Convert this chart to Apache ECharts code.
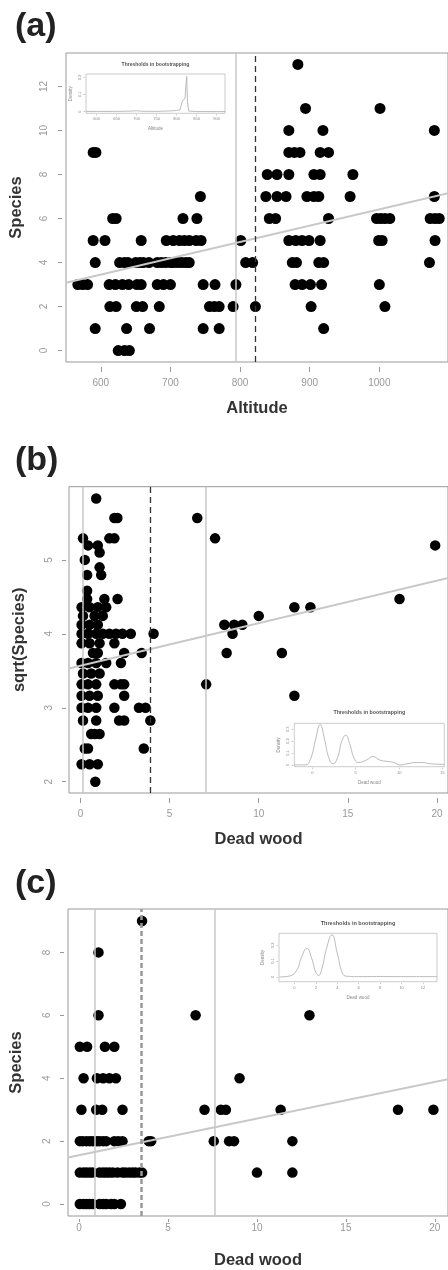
<!DOCTYPE html>
<html><head><meta charset="utf-8">
<script src="https://cdn.jsdelivr.net/npm/echarts@6/dist/echarts.min.js"></script>
<style>html,body{margin:0;padding:0;background:#fff}#c{width:448px;height:1270px}</style>
</head><body><div id="c"></div>
<script>
// ---------- Panel (a): Altitude vs Species ----------
const pointsA = [
 [883,13],
 [894,11],[1001,11],
 [870,10],[919,10],[1079,10],
 [589,9],[593,9],[870,9],[878,9],[886,9],[915,9],[927,9],
 [839,8],[853,8],[870,8],[906,8],[915,8],[962,8],
 [743,7],[837,7],[853,7],[866,7],[896,7],[906,7],[913,7],[958,7],[1079,7],
 [617,6],[622,6],[718,6],[738,6],[842,6],[851,6],[927,6],[996,6],[1002,6],[1008,6],[1015,6],[1073,6],[1080,6],[1086,6],
 [589,5],[606,5],[658,5],[694,5],[704,5],[713,5],[720,5],[727,5],[737,5],[744,5],[801,5],[870,5],[880,5],[889,5],[899,5],[915,5],[999,5],[1004,5],[1080,5],
 [592,4],[627,4],[634,4],[639,4],[650,4],[656,4],[661,4],[669,4],[681,4],[687,4],[693,4],[700,4],[704,4],[710,4],[716,4],[722,4],[727,4],[808,4],[818,4],[875,4],[881,4],[913,4],[920,4],[1072,4],
 [567,3],[574,3],[581,3],[612,3],[621,3],[631,3],[640,3],[652,3],[658,3],[681,3],[690,3],[700,3],[747,3],[764,3],[794,3],[879,3],[889,3],[901,3],[917,3],[1000,3],
 [613,2],[622,2],[651,2],[660,2],[684,2],[756,2],[763,2],[770,2],[790,2],[822,2],[902,2],[1008,2],
 [592,1],[637,1],[670,1],[747,1],[770,1],[920,1],
 [625,0],[634,0],[641,0]
];
const fitA = [[550,3.08],[1100,7.16]];
const solidA = [794];
const dashedA = [822];
const xTicksA = [600,700,800,900,1000];
const yTicksA = [0,2,4,6,8,10,12];
const densXA = [573,600,650,690,700,712,750,785,800,808,814,818,821,823,825,827,830,850,900,921];
const densYA = [0.002,0.002,0.002,0.004,0.006,0.003,0.002,0.005,0.007,0.01,0.06,0.07,0.08,0.15,0.205,0.06,0.004,0.001,0.001,0.001];
const insetXTicksA = [600,650,700,750,800,850,900];
const insetYTicksA = [0,0.1,0.2];

// ---------- Panel (b): Dead wood vs sqrt(Species) ----------
const pointsB = [ // [dead wood, species count]
 [0.88,34],
 [1.9,31],[2.07,31],[6.55,31],
 [0.14,28],[1.62,28],[1.9,28],[7.55,28],
 [0.42,27],[0.97,27],[19.9,27],
 [1.07,26],[0.24,25],[1.07,24],[0.37,23],[1.16,23],[0.37,21],
 [0.37,20],[1.34,20],[2.08,20],[17.9,20],
 [0.06,19],[0.51,19],[0.97,19],[1.44,19],[12.0,19],[12.9,19],
 [0.14,18],[0.79,18],[1.25,18],[10.0,18],
 [0.06,17],[0.51,17],[0.97,17],[8.07,17],[8.62,17],[9.08,17],
 [0.06,16],[0.42,16],[0.88,16],[1.25,16],[1.62,16],[1.99,16],[2.35,16],[2.82,16],[4.1,16],[8.53,16],
 [0.06,15],[0.51,15],[1.07,15],[1.9,15],
 [0.7,14],[0.97,14],[2.45,14],[3.43,14],[8.2,14],[11.3,14],
 [0.06,13],[0.42,13],[0.88,13],[1.44,13],[2.27,13],
 [0.14,12],[0.6,12],[1.07,12],
 [0.06,11],[0.42,11],[0.88,11],[1.9,11],[2.27,11],[2.45,11],[7.05,11],
 [0.06,10],[0.51,10],[0.97,10],[2.45,10],[12.0,10],
 [0.06,9],[0.42,9],[0.88,9],[1.9,9],[3.28,9],[3.65,9],
 [0.14,8],[0.88,8],[2.17,8],[2.45,8],[3.92,8],
 [0.6,7],[0.8,7],[1.07,7],
 [0.24,6],[0.42,6],[3.55,6],
 [0.06,5],[0.51,5],[0.97,5],
 [0.83,4]
];
const fitB = [[-0.65,3.53],[20.7,4.76]];
const solidB = [0.14,7.0];
const dashedB = [3.9];
const xTicksB = [0,5,10,15,20];
const yTicksB = [2,3,4,5];
const densXB = [-2.1,-0.8,-0.2,0.4,0.9,1.4,1.9,2.4,2.9,3.4,3.85,4.3,4.8,5.3,6.2,7.0,7.8,8.6,9.4,10.1,11.0,11.8,12.7,13.5,15.2];
const densYB = [0,0,0.05,0.22,0.34,0.22,0.06,0.01,0.06,0.2,0.25,0.18,0.06,0.02,0.04,0.07,0.04,0.03,0.02,0.0,0.01,0.02,0.02,0.01,0.005];
const insetXTicksB = [0,5,10,15];
const insetYTicksB = [0,0.1,0.2,0.3];

// ---------- Panel (c): Dead wood vs Species ----------
const pointsC = [
 [3.54,9],[1.09,8],
 [1.09,6],[6.55,6],[12.95,6],
 [0.04,5],[0.45,5],[1.45,5],[1.98,5],
 [0.25,4],[1.0,4],[1.35,4],[1.7,4],[2.07,4],[9.02,4],
 [0.13,3],[0.96,3],[1.3,3],[2.44,3],[7.05,3],[7.97,3],[8.25,3],[11.33,3],[17.93,3],[19.92,3],
 [0.04,2],[0.2,2],[0.41,2],[0.6,2],[0.77,2],[1.0,2],[1.15,2],[1.35,2],[1.52,2],[1.98,2],[2.2,2],[2.44,2],[3.91,2],[4.05,2],[7.57,2],[8.43,2],[8.71,2],[11.99,2],
 [0.04,1],[0.25,1],[0.41,1],[0.6,1],[0.77,1],[1.15,1],[1.35,1],[1.52,1],[1.7,1],[1.89,1],[2.16,1],[2.44,1],[2.6,1],[2.81,1],[3.0,1],[3.17,1],[3.4,1],[3.54,1],[10.0,1],[11.99,1],
 [0.04,0],[0.25,0],[0.41,0],[0.6,0],[0.77,0],[1.15,0],[1.35,0],[1.52,0],[1.8,0],[1.98,0],[2.35,0]
];
const fitC = [[-0.63,1.48],[20.75,3.97]];
const solidC = [0.9,7.6];
const dashedC = [3.5];
const xTicksC = [0,5,10,15,20];
const yTicksC = [0,2,4,6,8];
const densXC = [-1.4,-0.5,0.2,0.7,1.16,1.6,2.0,2.25,2.6,3.0,3.5,4.0,4.4,4.8,6,8,10,12,13.3];
const densYC = [0,0.005,0.04,0.13,0.18,0.12,0.03,0.01,0.06,0.18,0.265,0.15,0.04,0.005,0.002,0.003,0.002,0.002,0.002];
const insetXTicksC = [0,2,4,6,8,10,12];
const insetYTicksC = [0,0.1,0.2];

const insetTitle = 'Thresholds in bootstrapping';
// ---------------------------------------------------
const FONT = 'Liberation Sans, Arial, sans-serif';
const zip = (xs, ys) => xs.map((x, i) => [x, ys[i]]);
const plain = v => String(v);

function mainX(gi, min, max, ticks, name, offset, tickLen, margin) {
  return {type:'value', gridIndex:gi, min, max, offset,
    axisLine:{show:false, onZero:false}, splitLine:{show:false},
    axisTick:{show:true, length:tickLen, customValues:ticks, lineStyle:{color:'#999', width:1}},
    axisLabel:{customValues:ticks, color:'#999', fontSize:10, margin, fontFamily:FONT, formatter:plain},
    name, nameLocation:'middle', nameGap:33,
    nameTextStyle:{fontWeight:'bold', fontSize:16.5, color:'#333', fontFamily:FONT}};
}
function mainY(gi, min, max, ticks, name, offset, margin, gap) {
  return {type:'value', gridIndex:gi, min, max, offset,
    axisLine:{show:false, onZero:false}, splitLine:{show:false},
    axisTick:{show:true, length:4, customValues:ticks, lineStyle:{color:'#999', width:1}},
    axisLabel:{customValues:ticks, color:'#999', fontSize:10, margin, rotate:90, fontFamily:FONT, formatter:plain},
    name, nameLocation:'middle', nameGap:gap, nameRotate:90,
    nameTextStyle:{fontWeight:'bold', fontSize:16.5, color:'#333', fontFamily:FONT}};
}
function insetX(gi, min, max, ticks, name, gap) {
  return {type:'value', gridIndex:gi, min, max, offset:1,
    axisLine:{show:false, onZero:false}, splitLine:{show:false},
    axisTick:{show:true, length:1.5, customValues:ticks, lineStyle:{color:'#999', width:0.5}},
    axisLabel:{customValues:ticks, color:'#888', fontSize:4, margin:3, fontFamily:FONT, formatter:plain},
    name, nameLocation:'middle', nameGap:gap,
    nameTextStyle:{fontSize:4.5, color:'#888', fontFamily:FONT}};
}
function insetY(gi, min, max, ticks, gap) {
  return {type:'value', gridIndex:gi, min, max, offset:1,
    axisLine:{show:false, onZero:false}, splitLine:{show:false},
    axisTick:{show:true, length:1.5, customValues:ticks, lineStyle:{color:'#999', width:0.5}},
    axisLabel:{customValues:ticks, color:'#888', fontSize:4, margin:3, rotate:90, fontFamily:FONT, formatter:plain},
    name:'Density', nameLocation:'middle', nameGap:gap, nameRotate:90,
    nameTextStyle:{fontSize:4.5, color:'#888', fontFamily:FONT}};
}
function vlines(values, style) {
  return values.map(v => ({xAxis:v, lineStyle:style}));
}
const solidStyle = {color:'#c8c8c8', width:1.5, type:'solid'};
function panelSeries(idx, points, fit, solid, dashed, dashStyle, size) {
  return [
    {type:'scatter', xAxisIndex:idx, yAxisIndex:idx, data:points, symbol:'circle', symbolSize:size,
     itemStyle:{color:'#000', opacity:1}, silent:true, z:2},
    {type:'line', xAxisIndex:idx, yAxisIndex:idx, data:fit, showSymbol:false, clip:true,
     lineStyle:{color:'#c8c8c8', width:2}, silent:true, z:3,
     markLine:{silent:true, symbol:['none','none'], label:{show:false},
       data:vlines(solid, solidStyle).concat(vlines(dashed, dashStyle))}}
  ];
}
function densSeries(idx, xs, ys, smooth) {
  return {type:'line', xAxisIndex:idx, yAxisIndex:idx, data:zip(xs, ys), showSymbol:false, smooth,
    lineStyle:{color:'#aaa', width:0.8}, silent:true, clip:true};
}

const chart = echarts.init(document.getElementById('c'));
const pointsBsqrt = pointsB.map(p => [p[0], Math.sqrt(p[1])]);
const option = {
  animation:false,
  backgroundColor:'#fff',
  grid:[
    {left:66, top:53, right:-2, height:309, show:true, borderColor:'#999', borderWidth:1},
    {left:86, top:74, width:139, height:39.3, show:true, borderColor:'#aaa', borderWidth:0.6},
    {left:69, top:486.7, right:-6, height:306.3, show:true, borderColor:'#999', borderWidth:1},
    {left:294.3, top:723.3, width:150, height:43.4, show:true, borderColor:'#aaa', borderWidth:0.6},
    {left:68, top:909, right:-6, height:309.3, show:true, borderColor:'#999', borderWidth:1},
    {left:279, top:933.3, width:158, height:48.4, show:true, borderColor:'#aaa', borderWidth:0.6}
  ],
  xAxis:[
    mainX(0, 550, 1098.6, xTicksA, 'Altitude', 5, 5, 11),
    insetX(1, 573.3, 920.8, insetXTicksA, 'Altitude', 12),
    mainX(2, -0.646, 20.62, xTicksB, 'Dead wood', 5, 5, 11),
    insetX(3, -2.07, 15.2, insetXTicksB, 'Dead wood', 13),
    mainX(4, -0.625, 20.74, xTicksC, 'Dead wood', 3, 3, 4),
    insetX(5, -1.43, 13.3, insetXTicksC, 'Dead wood', 13)
  ],
  yAxis:[
    mainY(0, -0.52, 13.52, yTicksA, 'Species', 4, 13, 37),
    insetY(1, -0.009, 0.219, insetYTicksA, 12),
    mainY(2, 1.847, 5.99, yTicksB, 'sqrt(Species)', 3, 12, 38),
    insetY(3, -0.015, 0.35, insetYTicksB, 12),
    mainY(4, -0.38, 9.38, yTicksC, 'Species', 4, 12, 39),
    insetY(5, -0.03, 0.275, insetYTicksC, 13)
  ],
  series:[].concat(
    panelSeries(0, pointsA, fitA, solidA, dashedA, {color:'#333', width:1.3, type:[6,4]}, 11),
    [densSeries(1, densXA, densYA, false)],
    panelSeries(2, pointsBsqrt, fitB, solidB, dashedB, {color:'#333', width:1.3, type:[6,4]}, 10.5),
    [densSeries(3, densXB, densYB, true)],
    panelSeries(4, pointsC, fitC, solidC, dashedC, {color:'#999', width:2.5, type:[5,3]}, 10.5),
    [densSeries(5, densXC, densYC, true)]
  ),
  graphic:[
    {type:'text', left:15, top:10, style:{text:'(a)', fontSize:34, fontWeight:'bold', fill:'#222', fontFamily:FONT}},
    {type:'text', left:15, top:444, style:{text:'(b)', fontSize:34, fontWeight:'bold', fill:'#222', fontFamily:FONT}},
    {type:'text', left:15, top:867, style:{text:'(c)', fontSize:34, fontWeight:'bold', fill:'#222', fontFamily:FONT}},
    {type:'text', x:155.5, y:65, style:{text:insetTitle, fontSize:5, fontWeight:'bold', fill:'#555', align:'center', verticalAlign:'middle', fontFamily:FONT}},
    {type:'text', x:369.3, y:712.3, style:{text:insetTitle, fontSize:5.3, fontWeight:'bold', fill:'#555', align:'center', verticalAlign:'middle', fontFamily:FONT}},
    {type:'text', x:358, y:923, style:{text:insetTitle, fontSize:5.5, fontWeight:'bold', fill:'#555', align:'center', verticalAlign:'middle', fontFamily:FONT}}
  ]
};
chart.setOption(option);
</script></body></html>
